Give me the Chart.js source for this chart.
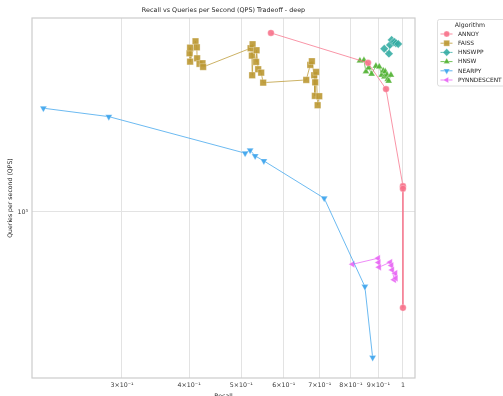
<!DOCTYPE html>
<html>
<head>
<meta charset="utf-8">
<script src="https://cdn.jsdelivr.net/npm/chart.js@4/dist/chart.umd.min.js"></script>
<style>
  html, body { margin: 0; padding: 0; background: #fff; }
  #wrap { width: 503px; height: 396px; }
</style>
</head>
<body>
<div id="wrap"><canvas id="chart" width="503" height="396"></canvas></div>
<script>
// Values (recall on x, QPS on y, both log scaled)
const algorithms = ['ANNOY', 'FAISS', 'HNSWPP', 'HNSW', 'NEARPY', 'PYNNDESCENT']

const annoyRecall = [0.568, 0.861, 0.930, 1.0, 1.0, 1.0]
const annoyQps = [5570, 4180, 3250, 1280, 1250, 398]

const faissRecall = [
  0.4007, 0.4017, 0.4017, 0.4111, 0.4134, 0.4139, 0.4182, 0.4236, 0.4247,
  0.5205, 0.5234, 0.5241, 0.5250, 0.5330, 0.5340, 0.5377, 0.5447, 0.5494,
  0.6607, 0.6722, 0.6769, 0.6837, 0.6857, 0.6866, 0.6895, 0.6938, 0.6985
]
const faissQps = [
  4584, 4837, 4229, 5142, 4853, 4367, 4140, 4165, 4019,
  4809, 4480, 3711, 4997, 4217, 4718, 3932, 3805, 3457,
  3548, 4098, 4246, 3711, 3044, 3468, 3831, 2784, 3035
]

const hnswppRecall = [0.923, 0.9417, 0.9458, 0.9527, 0.9592, 0.965, 0.9705, 0.98]
const hnswppQps = [4790, 4566, 4966, 5210, 5095, 5108, 5043, 5012]

const hnswRecall = [
  0.8315, 0.8461, 0.8533, 0.8632, 0.8743, 0.8906, 0.9034, 0.9128,
  0.919, 0.9237, 0.927, 0.9337, 0.9369, 0.9406, 0.9499
]
const hnswQps = [
  4270, 4287, 3843, 3992, 3758, 4057, 4030, 3722,
  3878, 3661, 3843, 3722, 3571, 3513, 3722
]

const nearpyRecall = [0.2142, 0.2835, 0.5085, 0.5195, 0.5308, 0.551, 0.7136, 0.8495, 0.8782]
const nearpyQps = [2705, 2495, 1757, 1807, 1711, 1631, 1140, 488, 247]

const pynnRecall = [0.806, 0.899, 0.901, 0.903, 0.947, 0.952, 0.955, 0.963, 0.968, 0.970]
const pynnQps = [605, 641, 615, 588, 617, 598, 573, 521, 555, 529]

const xTicks = [0.3, 0.4, 0.5, 0.6, 0.7, 0.8, 0.9, 1]
const xTickLabels = ['3×10⁻¹', '4×10⁻¹', '5×10⁻¹', '6×10⁻¹', '7×10⁻¹', '8×10⁻¹', '9×10⁻¹', '1']
const yTicks = [1000]
const yTickLabels = ['10³']

// seaborn husl palette
const colors = ['#f77189', '#bb9832', '#36ada4', '#50b131', '#3ba3ec', '#e866f4']
const markers = [
  { style: 'circle', radius: 3.3, rotation: 0 },
  { style: 'rect', radius: 4.6, rotation: 0 },
  { style: 'rectRot', radius: 4.2, rotation: 0 },
  { style: 'triangle', radius: 4, rotation: 0 },
  { style: 'triangle', radius: 4, rotation: 180 },
  { style: 'triangle', radius: 4, rotation: -90 }
]

const series = [
  [annoyRecall, annoyQps],
  [faissRecall, faissQps],
  [hnswppRecall, hnswppQps],
  [hnswRecall, hnswQps],
  [nearpyRecall, nearpyQps],
  [pynnRecall, pynnQps]
]

function alpha(hex, a) {
  const n = parseInt(hex.slice(1), 16)
  return `rgba(${(n >> 16) & 255},${(n >> 8) & 255},${n & 255},${a})`
}

const datasets = series.map(([xs, ys], i) => ({
  label: algorithms[i],
  data: xs.map((x, j) => ({ x, y: ys[j] })),
  borderColor: alpha(colors[i], 0.75),
  borderWidth: 1,
  backgroundColor: alpha(colors[i], 0.9),
  pointStyle: markers[i].style,
  pointRadius: markers[i].radius,
  pointRotation: markers[i].rotation,
  pointBackgroundColor: alpha(colors[i], 0.9),
  pointBorderColor: 'rgba(255,255,255,0.6)',
  pointBorderWidth: 0.5,
  tension: 0,
  fill: false
}))

const FONT = '"DejaVu Sans", sans-serif'

function drawMarker(ctx, i, x, y) {
  const m = markers[i]
  ctx.fillStyle = alpha(colors[i], 0.9)
  ctx.strokeStyle = 'rgba(255,255,255,0.6)'
  ctx.lineWidth = 0.5
  Chart.helpers.drawPoint(ctx, { pointStyle: m.style, radius: m.radius * 0.9, rotation: m.rotation, borderWidth: 0.5 }, x, y)
}

// Background, frame, titles and legend drawn by hand
const decor = {
  id: 'decor',
  beforeDraw(chart) {
    const ctx = chart.ctx
    ctx.save()
    ctx.fillStyle = '#ffffff'
    ctx.fillRect(0, 0, chart.width, chart.height)
    ctx.restore()
  },
  afterDraw(chart) {
    const ctx = chart.ctx
    const a = chart.chartArea
    ctx.save()
    // frame
    ctx.strokeStyle = '#cccccc'
    ctx.lineWidth = 1.2
    ctx.strokeRect(a.left, a.top, a.right - a.left, a.bottom - a.top)

    // title
    ctx.fillStyle = '#262626'
    ctx.font = `6.4px ${FONT}`
    ctx.textAlign = 'center'
    ctx.textBaseline = 'middle'
    ctx.fillText('Recall vs Queries per Second (QPS) Tradeoff - deep', (a.left + a.right) / 2, 10.5)

    // axis titles
    ctx.font = `6.2px ${FONT}`
    ctx.textBaseline = 'top'
    ctx.fillText('Recall', (a.left + a.right) / 2, 393)
    ctx.save()
    ctx.translate(10, (a.top + a.bottom) / 2)
    ctx.rotate(-Math.PI / 2)
    ctx.textBaseline = 'middle'
    ctx.fillText('Queries per second (QPS)', 0, 0)
    ctx.restore()

    // legend
    const lx = 437.5, ly = 19.5, lw = 70, lh = 66.5
    ctx.fillStyle = 'rgba(255,255,255,0.9)'
    ctx.strokeStyle = '#d6d6d6'
    ctx.lineWidth = 0.8
    ctx.beginPath()
    ctx.roundRect(lx, ly, lw, lh, 2)
    ctx.fill()
    ctx.stroke()
    ctx.fillStyle = '#262626'
    ctx.font = `6.2px ${FONT}`
    ctx.textAlign = 'center'
    ctx.textBaseline = 'middle'
    ctx.fillText('Algorithm', 470, 25)
    ctx.textAlign = 'left'
    ctx.font = `5.9px ${FONT}`
    algorithms.forEach((name, i) => {
      const y = 34 + i * 9.2
      ctx.strokeStyle = alpha(colors[i], 0.8)
      ctx.lineWidth = 1
      ctx.beginPath()
      ctx.moveTo(440.5, y)
      ctx.lineTo(452.5, y)
      ctx.stroke()
      drawMarker(ctx, i, 446.7, y)
      ctx.fillStyle = '#262626'
      ctx.fillText(name, 458, y + 0.3)
    })
    ctx.restore()
  }
}

new Chart(document.getElementById('chart').getContext('2d'), {
  type: 'line',
  data: { datasets },
  plugins: [decor],
  options: {
    responsive: false,
    animation: false,
    layout: { padding: { left: 0, right: 88, top: 18, bottom: 0 } },
    scales: {
      x: {
        type: 'logarithmic',
        min: 0.204,
        max: 1.053,
        afterBuildTicks: (s) => { s.ticks = xTicks.map((v) => ({ value: v })) },
        afterFit: (s) => { s.height = 18 },
        grid: { color: '#e3e3e3', lineWidth: 1, drawTicks: false },
        border: { display: false },
        ticks: {
          autoSkip: false,
          maxRotation: 0,
          padding: 4,
          color: '#3a3a3a',
          font: { family: FONT, size: 6.3 },
          callback: (v) => {
            const i = xTicks.findIndex((t) => Math.abs(t - v) < 1e-9)
            return i >= 0 ? xTickLabels[i] : ''
          }
        }
      },
      y: {
        type: 'logarithmic',
        min: 203,
        max: 6430,
        afterBuildTicks: (s) => { s.ticks = yTicks.map((v) => ({ value: v })) },
        afterFit: (s) => { s.width = 32 },
        grid: { color: '#e3e3e3', lineWidth: 1, drawTicks: false },
        border: { display: false },
        ticks: {
          padding: 4,
          color: '#3a3a3a',
          font: { family: FONT, size: 6.3 },
          callback: (v) => {
            const i = yTicks.indexOf(v)
            return i >= 0 ? yTickLabels[i] : ''
          }
        }
      }
    },
    plugins: {
      legend: { display: false },
      tooltip: { enabled: false }
    }
  }
})
</script>
</body>
</html>
